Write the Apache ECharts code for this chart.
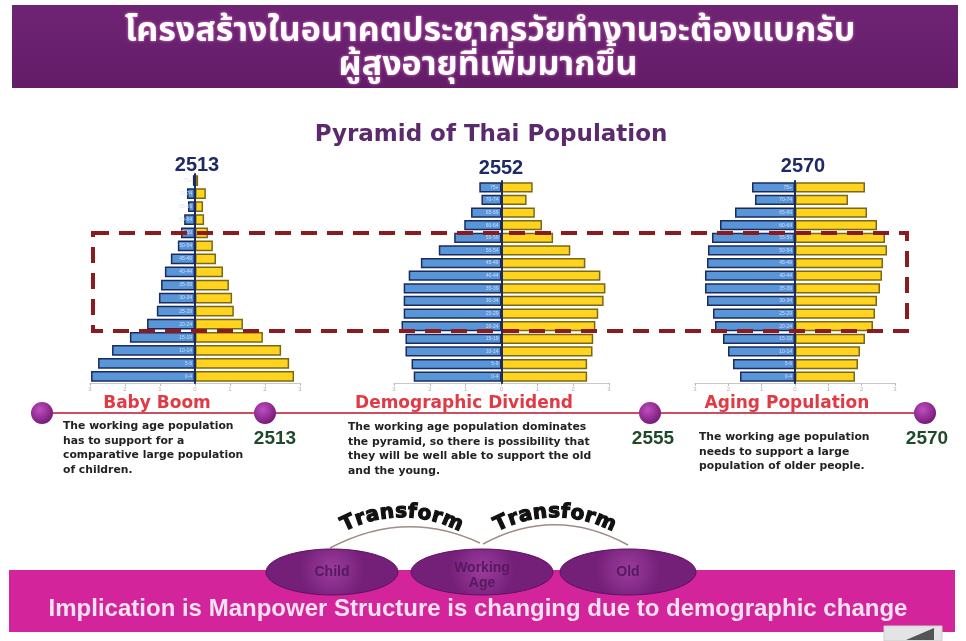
<!DOCTYPE html>
<html>
<head>
<meta charset="utf-8">
<title>Pyramid of Thai Population</title>
<script src="https://cdn.jsdelivr.net/npm/echarts@6.0.0/dist/echarts.min.js"></script>
<style>
html, body { margin: 0; padding: 0; background: #fff; }
#chart { width: 966px; height: 641px; }
</style>
</head>
<body>
<div id="chart"></div>
<script>
// age groups, from the bottom of each pyramid to the top
const ageGroups = ['0-4', '5-9', '10-14', '15-19', '20-24', '25-29', '30-34', '35-39',
  '40-44', '45-49', '50-54', '55-59', '60-64', '65-69', '70-74', '75+'];

// population per group (millions), male on the left, female on the right
const male2513 = [2.97, 2.77, 2.37, 1.86, 1.37, 1.09, 1.03, 0.97, 0.86, 0.69, 0.49, 0.40, 0.31, 0.20, 0.23, 0.06];
const female2513 = [2.83, 2.69, 2.46, 1.94, 1.37, 1.11, 1.06, 0.97, 0.80, 0.60, 0.51, 0.37, 0.26, 0.23, 0.31, 0.09];
const male2552 = [2.45, 2.51, 2.68, 2.68, 2.79, 2.73, 2.73, 2.73, 2.59, 2.25, 1.75, 1.32, 1.04, 0.85, 0.56, 0.62];
const female2552 = [2.39, 2.39, 2.54, 2.56, 2.62, 2.70, 2.85, 2.90, 2.76, 2.34, 1.92, 1.44, 1.13, 0.93, 0.70, 0.87];
const male2570 = [1.65, 1.86, 2.01, 2.16, 2.40, 2.46, 2.64, 2.70, 2.70, 2.64, 2.61, 2.49, 2.25, 1.80, 1.20, 1.29];
const female2570 = [1.80, 1.89, 1.95, 2.10, 2.34, 2.40, 2.46, 2.55, 2.61, 2.64, 2.76, 2.70, 2.46, 2.16, 1.59, 2.10];

const pyramidYears = ['2513', '2552', '2570'];
const timelineYears = ['2513', '2555', '2570'];
const phaseTitles = ['Baby Boom', 'Demographic Dividend', 'Aging Population'];
const phaseTexts = [
  'The working age population\nhas to support for a\ncomparative large population\nof children.',
  'The working age population dominates\nthe pyramid, so there is possibility that\nthey will be well able to support the old\nand the young.',
  'The working age population\nneeds to support a large\npopulation of older people.'
];
const stages = ['Child', 'Working\nAge', 'Old'];
const headerLines = ['โครงสร้างในอนาคตประชากรวัยทำงานจะต้องแบกรับ', 'ผู้สูงอายุที่เพิ่มมากขึ้น'];

const chart = echarts.init(document.getElementById('chart'));

const grids = [
  { left: 90, top: 174, width: 210, height: 209 },
  { left: 394, top: 181, width: 215, height: 202 },
  { left: 695, top: 181, width: 200, height: 202 }
];
const maleData = [male2513, male2552, male2570];
const femaleData = [female2513, female2552, female2570];

let xAxes = [], yAxes = [], series = [];
grids.forEach((g, i) => {
  xAxes.push({
    type: 'value', gridIndex: i, min: -3, max: 3, interval: 1,
    axisLine: { show: true, lineStyle: { color: '#c8c8c8' } },
    axisTick: { show: true, length: 3, lineStyle: { color: '#bbbbbb' } },
    axisLabel: { fontSize: 6, color: '#b0b0b0', margin: 3, formatter: v => Math.abs(v) },
    splitLine: { show: false }
  });
  yAxes.push({
    type: 'category', gridIndex: i, data: ageGroups,
    axisLine: { show: true, lineStyle: { color: '#1c2a5c', width: 2 } },
    axisTick: { show: false },
    // labels pulled in next to the centre line, as in the original
    axisLabel: { fontSize: 5, color: 'rgba(215,225,245,0.9)', margin: -(g.width / 2) + 3 },
    z: 5
  });
  series.push({
    type: 'bar', name: 'Male', xAxisIndex: i, yAxisIndex: i,
    data: maleData[i].map(v => -v),
    barGap: '-100%', barCategoryGap: '18%', silent: true,
    itemStyle: { color: '#5896d8', borderColor: '#1b2b60', borderWidth: 1.5 }
  });
  series.push({
    type: 'bar', name: 'Female', xAxisIndex: i, yAxisIndex: i,
    data: femaleData[i],
    barGap: '-100%', barCategoryGap: '18%', silent: true,
    itemStyle: { color: '#ffd31e', borderColor: '#7a6816', borderWidth: 1.5 }
  });
});

function txt(text, x, y, font, fill, align, extra) {
  return {
    type: 'text', x: x, y: y, z: 50,
    style: Object.assign({
      text: text, font: font, fill: fill,
      align: align || 'center', verticalAlign: 'middle',
      textAlign: align || 'center', textVerticalAlign: 'middle'
    }, extra || {})
  };
}

// letters laid out along a circle arc
const measureCtx = document.createElement('canvas').getContext('2d');
function arcText(str, cx, cy, R, font, spacing) {
  measureCtx.font = font;
  const widths = str.split('').map(c => measureCtx.measureText(c).width);
  const total = widths.reduce((a, b) => a + b, 0) + spacing * (str.length - 1);
  let acc = -total / 2;
  return str.split('').map((c, k) => {
    const phi = (acc + widths[k] / 2) / R;
    acc += widths[k] + spacing;
    return {
      type: 'text', z: 60,
      x: cx + R * Math.sin(phi), y: cy - R * Math.cos(phi), rotation: -phi,
      style: { text: c, font: font, fill: '#111', stroke: '#111', lineWidth: 1.2,
        align: 'center', verticalAlign: 'middle', textAlign: 'center', textVerticalAlign: 'middle' }
    };
  });
}

const purpleBall = () => new echarts.graphic.RadialGradient(0.4, 0.35, 0.75, [
  { offset: 0, color: '#c04ec2' }, { offset: 1, color: '#6c136e' }
]);
const ellipseFill = () => new echarts.graphic.RadialGradient(0.5, 0.45, 0.7, [
  { offset: 0, color: '#9c3c9e' }, { offset: 1, color: '#741f78' }
]);

const thaiFont = 'bold 34px "Noto Sans Thai", "Noto Sans", "DejaVu Sans", sans-serif';
const wideBold = '"DejaVu Sans", Verdana, sans-serif';

const graphics = [];
// header band
graphics.push({
  type: 'rect', z: 1, shape: { x: 12, y: 5, width: 946, height: 83 },
  style: { fill: new echarts.graphic.LinearGradient(0, 0, 0, 1, [
    { offset: 0, color: '#6e2473' }, { offset: 1, color: '#641c69' }]) }
});
graphics.push(txt(headerLines[0], 490, 34, thaiFont, '#ffffff', 'center',
  { textShadowColor: '#e27ccd', textShadowBlur: 3 }));
graphics.push(txt(headerLines[1], 488, 68, thaiFont, '#ffffff', 'center',
  { textShadowColor: '#e27ccd', textShadowBlur: 3 }));

// chart title and pyramid years
graphics.push(txt('Pyramid of Thai Population', 491, 135, 'bold 23px ' + wideBold, '#5a2a6c'));
const yearX = [197, 501, 803];
const yearY = [165, 168, 166];
pyramidYears.forEach((y, i) => graphics.push(txt(y, yearX[i], yearY[i], 'bold 20px "Liberation Sans", Arial, sans-serif', '#1e2a66')));

// dashed working-age box
graphics.push({
  type: 'rect', z: 100, shape: { x: 93, y: 233, width: 814, height: 98 },
  style: { fill: 'none', stroke: '#8a1b1f', lineWidth: 4, lineDash: [16, 10] }
});

// timeline
graphics.push({
  type: 'line', z: 40, shape: { x1: 42, y1: 413, x2: 925, y2: 413 },
  style: { stroke: '#cc4f60', lineWidth: 2 }
});
[42, 265, 650, 925].forEach(cx => graphics.push({
  type: 'circle', z: 45, shape: { cx: cx, cy: 413, r: 11 }, style: { fill: purpleBall() }
}));
const phaseX = [157, 464, 787];
phaseTitles.forEach((t, i) => graphics.push(txt(t, phaseX[i], 404, 'bold 17px ' + wideBold, '#e03a44')));
const tyX = [275, 653, 927];
timelineYears.forEach((t, i) => graphics.push(txt(t, tyX[i], 439, 'bold 19px "Liberation Sans", Arial, sans-serif', '#1f4a2a')));
const descX = [63, 348, 699];
const descY = [419, 420, 430];
phaseTexts.forEach((t, i) => graphics.push(
  txt(t, descX[i], descY[i], 'bold 10.8px ' + wideBold, '#222222', 'left',
    { lineHeight: 14.5, verticalAlign: 'top', textVerticalAlign: 'top' })));

// bottom band
graphics.push({
  type: 'rect', z: 10, shape: { x: 9, y: 570, width: 946, height: 62 },
  style: { fill: '#d4249c' }
});
graphics.push(txt('Implication is Manpower Structure is changing due to demographic change', 478, 609,
  'bold 24px "Liberation Sans", Arial, sans-serif', '#f4e2f0', 'center'));

// transform arcs
graphics.push({
  type: 'bezierCurve', z: 20, shape: { x1: 330, y1: 548, x2: 480, y2: 543, cpx1: 405, cpy1: 508 },
  style: { stroke: '#a08c86', lineWidth: 1.5, fill: 'none' }
});
graphics.push({
  type: 'bezierCurve', z: 20, shape: { x1: 483, y1: 544, x2: 628, y2: 545, cpx1: 555, cpy1: 505 },
  style: { stroke: '#a08c86', lineWidth: 1.5, fill: 'none' }
});
arcText('Transform', 402, 640, 128, 'bold 20px "DejaVu Sans", sans-serif', 1).forEach(e => graphics.push(e));
arcText('Transform', 555, 640, 128, 'bold 20px "DejaVu Sans", sans-serif', 1).forEach(e => graphics.push(e));

// stage ellipses
const ellX = [332, 482, 628];
const ellRx = [66, 71, 68];
stages.forEach((s, i) => {
  graphics.push({
    type: 'ellipse', z: 30, shape: { cx: ellX[i], cy: 572, rx: ellRx[i], ry: 23 },
    style: { fill: ellipseFill(), stroke: '#5e1262', lineWidth: 1 }
  });
  graphics.push(txt(s, ellX[i], i === 1 ? 576 : 572, 'bold 14px "Liberation Sans", Arial, sans-serif', '#551a5e', 'center',
    { lineHeight: 15 }));
});

// little corner icon
graphics.push({ type: 'rect', z: 12, shape: { x: 884, y: 626, width: 58, height: 15 }, style: { fill: '#e4e4e4', stroke: '#cfcfcf' } });
graphics.push({ type: 'polygon', z: 13, shape: { points: [[934, 628], [934, 640], [906, 640]] }, style: { fill: '#555' } });

const option = {
  backgroundColor: '#ffffff',
  animation: false,
  grid: grids.map(g => Object.assign({ containLabel: false }, g)),
  xAxis: xAxes,
  yAxis: yAxes,
  series: series,
  graphic: { elements: graphics }
};
chart.setOption(option);
</script>
</body>
</html>
